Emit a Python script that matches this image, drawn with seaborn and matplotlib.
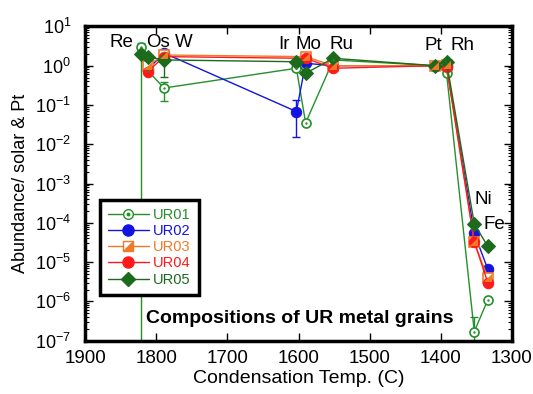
import numpy as np
import pandas as pd
import matplotlib
matplotlib.use("Agg")
import matplotlib.pyplot as plt
from matplotlib.lines import Line2D
from matplotlib.legend_handler import HandlerTuple
from matplotlib.path import Path
import matplotlib.ticker as mticker
import seaborn as sns

# ---- data ----
elements = ["Re", "Os", "W", "Ir", "Mo", "Ru", "Pt", "Rh", "Ni", "Fe"]
temps = [1821, 1812, 1789, 1603, 1590, 1551, 1408, 1392, 1353, 1334]

ur01 = [3.05, 0.75, 0.27, 0.86, 0.035, 1.4, 1.0, 0.65, 1.7e-7, 1.1e-6]
ur02 = [None, 0.8, 2.1, 0.068, 1.15, 1.0, 1.0, 1.0, 5.4e-5, 6.6e-6]
ur03 = [None, 1.0, 1.87, None, 1.7, 1.0, 1.0, 1.05, 3.2e-5, 4.0e-6]
ur04 = [None, 0.7, 1.7, None, 1.54, 0.86, 1.0, 0.95, 3.3e-5, 3.0e-6]
ur05 = [2.0, 1.7, 1.4, 1.26, 0.64, 1.54, 1.0, 1.26, 9.4e-5, 2.5e-5]

series_names = ["UR01", "UR02", "UR03", "UR04", "UR05"]
series_vals = [ur01, ur02, ur03, ur04, ur05]
colors = ["#24902a", "#1414e0", "#f07a28", "#ff1a1a", "#1c6b1c"]

# error bars: (series, element, low, high)
err_series = ["UR01", "UR01", "UR01", "UR02", "UR05"]
err_elem = ["Re", "W", "Ni", "Ir", "W"]
err_low = [1e-9, 0.126, 1e-9, 0.015, 0.52]
err_high = [3.85, 0.39, 4.1e-7, 0.13, 2.5]

# element label positions (temperature, abundance)
lab_t = [1849, 1798, 1761, 1620, 1586, 1540, 1410, 1370, 1341, 1325]
lab_v = [3.85, 3.85, 3.85, 3.4, 3.4, 3.4, 3.2, 3.2, 4.0e-4, 8.9e-5]

# ---- figure ----
sns.set_style("ticks")
plt.rcParams["font.family"] = ["Liberation Sans", "DejaVu Sans"]
for k in ["text.color", "axes.labelcolor", "xtick.color", "ytick.color",
          "xtick.labelcolor", "ytick.labelcolor", "axes.edgecolor"]:
    plt.rcParams[k] = "black"
fig = plt.figure(figsize=(5.33, 3.94), dpi=100)
ax = fig.add_axes([0.1595, 0.1353, 0.8011, 0.7977])

tri = Path([(-1, -1), (1, -1), (1, 1), (-1, -1)],
           [Path.MOVETO, Path.LINETO, Path.LINETO, Path.CLOSEPOLY])

handles = []
for name, vals, col in zip(series_names, series_vals, colors):
    df = pd.DataFrame({"T": temps, "v": vals, "el": elements}).dropna()
    for s, e, lo, hi in zip(err_series, err_elem, err_low, err_high):
        if s == name:
            row = df[df["el"] == e].iloc[0]
            tx, vy = float(row["T"]), float(row["v"])
            ax.errorbar([tx], [vy], yerr=[[vy - lo], [hi - vy]],
                        fmt="none", ecolor=col, elinewidth=1.0, capsize=3, zorder=2)
    if name == "UR01":
        sns.lineplot(data=df, x="T", y="v", sort=False, ax=ax, color=col, lw=1.0,
                     marker="o", markersize=6.5, markerfacecolor="white",
                     markeredgecolor=col, markeredgewidth=1.2, zorder=3)
        sns.scatterplot(data=df, x="T", y="v", ax=ax, color=col, s=3,
                        linewidth=0, zorder=4)
        h = (Line2D([], [], color=col, lw=1.0, marker="o", markersize=7,
                    markerfacecolor="white", markeredgecolor=col),
             Line2D([], [], color=col, lw=0, marker="o", markersize=1.8))
    elif name == "UR03":
        sns.lineplot(data=df, x="T", y="v", sort=False, ax=ax, color=col, lw=1.0,
                     marker="s", markersize=6.5, markerfacecolor="white",
                     markeredgecolor=col, markeredgewidth=1.2, zorder=3)
        sns.scatterplot(data=df, x="T", y="v", ax=ax, color=col, marker=tri,
                        s=28, linewidth=0, zorder=4)
        h = (Line2D([], [], color=col, lw=1.0, marker="s", markersize=7,
                    markerfacecolor="white", markeredgecolor=col),
             Line2D([], [], color=col, lw=0, marker=tri, markersize=5.5))
    elif name == "UR05":
        sns.lineplot(data=df, x="T", y="v", sort=False, ax=ax, color=col, lw=1.0,
                     marker="D", markersize=7, markerfacecolor=col,
                     markeredgecolor=col, zorder=3)
        h = Line2D([], [], color=col, lw=1.0, marker="D", markersize=7)
    else:
        sns.lineplot(data=df, x="T", y="v", sort=False, ax=ax, color=col, lw=1.0,
                     marker="o", markersize=7.5, markerfacecolor=col,
                     markeredgecolor=col, zorder=3)
        h = Line2D([], [], color=col, lw=1.0, marker="o", markersize=8)
    handles.append(h)

ax.set_yscale("log")
ax.set_xlim(1900, 1300)
ax.set_ylim(1e-7, 1e1)
ax.set_xticks([1900, 1800, 1700, 1600, 1500, 1400, 1300])
ax.yaxis.set_major_locator(mticker.LogLocator(base=10, numticks=20))
ax.yaxis.set_minor_locator(mticker.LogLocator(base=10, subs=np.arange(2, 10), numticks=20))
ax.xaxis.set_minor_locator(mticker.NullLocator())
ax.tick_params(axis="both", which="both", direction="in", top=True, right=True,
               color="black", labelcolor="black")
ax.tick_params(axis="x", which="major", length=6, width=1.0, pad=7, labelsize=13.5)
ax.tick_params(axis="y", which="major", length=6, width=1.0, pad=10, labelsize=13)
ax.tick_params(axis="y", which="minor", length=3, width=0.8)
for sp in ax.spines.values():
    sp.set_linewidth(2.5)
    sp.set_color("black")
    sp.set_visible(True)

ax.set_xlabel("Condensation Temp. (C)", fontsize=14, labelpad=2, color="black")
ax.set_ylabel("Abundance/ solar & Pt", fontsize=13, labelpad=4, color="black")

for el_, lx, ly in zip(elements, lab_t, lab_v):
    ax.text(lx, ly, el_, fontsize=13.5, ha="center", va="center", zorder=5,
            color="black")

ax.text(0.503, 0.07, "Compositions of UR metal grains", transform=ax.transAxes,
        fontsize=14, fontweight="bold", ha="center", va="center", color="black")

leg = ax.legend(handles, series_names, loc="upper left",
                bbox_to_anchor=(0.035, 0.448), borderaxespad=0,
                handler_map={tuple: HandlerTuple(ndivide=1)},
                fontsize=10.5, frameon=True, fancybox=False, framealpha=1,
                edgecolor="black", handlelength=2.8, handletextpad=0.3,
                labelspacing=0.15, borderpad=0.55)
leg.get_frame().set_linewidth(2.5)
for t, c in zip(leg.get_texts(), colors):
    t.set_color(c)

fig.savefig("out.png", dpi=100)
